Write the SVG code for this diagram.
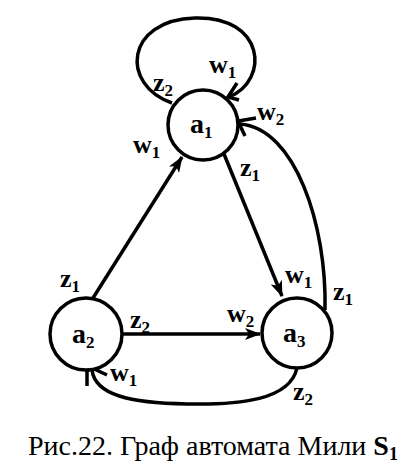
<svg xmlns="http://www.w3.org/2000/svg" width="414" height="469" viewBox="0 0 414 469">
<style>
.n{fill:#fff;stroke:#000;stroke-width:3.5}
.e{fill:none;stroke:#000;stroke-width:3.5}
.h{fill:none;stroke:#000;stroke-width:3.5;stroke-linecap:butt}
.t{font-family:"Liberation Serif","Times New Roman",serif;font-weight:bold;font-size:28px;fill:#000}
.l{font-family:"Liberation Serif","Times New Roman",serif;font-weight:bold;font-size:26px;fill:#000}
.s{font-size:17px}
.c{font-family:"Liberation Serif","Times New Roman",serif;font-size:28px;fill:#000}
</style>
<defs>
<marker id="arr" viewBox="0 0 16 12" refX="15" refY="6" markerWidth="16" markerHeight="12" markerUnits="userSpaceOnUse" orient="auto">
<path d="M0,0 L16,6 L0,12 L4,6 Z" fill="#000"/>
</marker>
</defs>
<g id="connectors">
<line class="e" x1="93" y1="298" x2="182" y2="157" marker-end="url(#arr)"/>
<line class="e" x1="224" y1="154" x2="282" y2="296" marker-end="url(#arr)"/>
<line class="e" x1="121" y1="334" x2="260" y2="334" marker-end="url(#arr)"/>
<path class="e" d="M325,310 C327,225 295,128 240,124"/>
<polyline class="h" points="256,118 238,121 245,136"/>
<path class="e" d="M172,103 C120,85 125,20 195,18 C265,16 270,80 229,97"/>
<polyline class="h" points="237,83 228,97 239,100"/>
<path class="e" d="M297,368 C290,400 240,405 187,404 C130,403 95,395 92,370"/>
<polyline class="h" points="87,386 87,371 92,368 107,375"/>
</g>
<g id="a1">
<circle class="n" cx="203" cy="125" r="35"/>
<text class="t" x="190" y="133">a<tspan class="s" dy="5">1</tspan></text>
</g>
<g id="a2">
<circle class="n" cx="86" cy="334" r="36"/>
<text class="t" x="72" y="343">a<tspan class="s" dy="5">2</tspan></text>
</g>
<g id="a3">
<circle class="n" cx="297" cy="333" r="35"/>
<text class="t" x="283" y="342">a<tspan class="s" dy="5">3</tspan></text>
</g>
<g id="labels">
<text class="l" x="209" y="73">w<tspan class="s" dy="5">1</tspan></text>
<text class="l" x="153" y="91">z<tspan class="s" dy="5">2</tspan></text>
<text class="l" x="257" y="120">w<tspan class="s" dy="5">2</tspan></text>
<text class="l" x="133" y="153">w<tspan class="s" dy="5">1</tspan></text>
<text class="l" x="240" y="176">z<tspan class="s" dy="5">1</tspan></text>
<text class="l" x="60" y="287">z<tspan class="s" dy="5">1</tspan></text>
<text class="l" x="130" y="328">z<tspan class="s" dy="5">2</tspan></text>
<text class="l" x="227" y="322">w<tspan class="s" dy="5">2</tspan></text>
<text class="l" x="285" y="283">w<tspan class="s" dy="5">1</tspan></text>
<text class="l" x="333" y="300">z<tspan class="s" dy="5">1</tspan></text>
<text class="l" x="110" y="381">w<tspan class="s" dy="5">1</tspan></text>
<text class="l" x="293" y="400">z<tspan class="s" dy="5">2</tspan></text>
</g>
<text class="c" x="28" y="455">Рис.22. Граф автомата Мили <tspan font-weight="bold">S</tspan><tspan font-weight="bold" font-size="18px" dy="5">1</tspan></text>
</svg>
